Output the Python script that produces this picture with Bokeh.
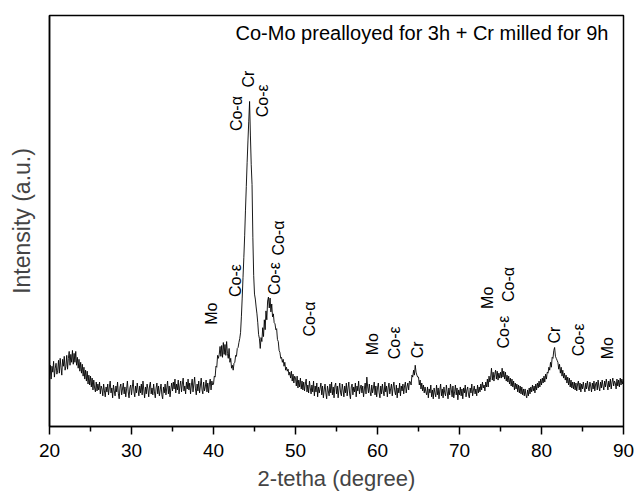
import math
from bokeh.plotting import figure
from bokeh.models import Range1d, Label, FixedTicker, ColumnDataSource
from bokeh.core.properties import value
from bokeh.embed import file_html
from bokeh.resources import INLINE

intensity = [
    58, 69, 55, 68, 62, 73, 57, 66, 71, 60,   # 20
    64, 74, 61, 76, 67, 59, 75, 68, 78, 64,   # 21
    68, 79, 65, 76, 83, 69, 80, 72, 84, 70,   # 22
    81, 72, 83, 69, 77, 66, 75, 63, 72, 61,   # 23
    70, 58, 67, 55, 64, 53, 63, 50, 59, 49,   # 24
    58, 47, 56, 44, 54, 46, 42, 52, 43, 50,   # 25
    44, 52, 40, 48, 45, 38, 50, 43, 37, 47,   # 26
    42, 50, 39, 47, 53, 41, 46, 36, 49, 43,   # 27
    38, 48, 42, 52, 40, 35, 47, 50, 39, 45,   # 28
    51, 40, 47, 37, 45, 53, 42, 36, 46, 49,   # 29
    39, 47, 54, 42, 37, 48, 41, 51, 44, 38,   # 30
    48, 41, 50, 39, 53, 44, 36, 47, 40, 50,   # 31
    45, 37, 48, 52, 40, 46, 39, 50, 42, 36,   # 32
    46, 51, 40, 48, 38, 44, 50, 39, 35, 47,   # 33
    41, 50, 39, 46, 53, 40, 48, 37, 45, 51,   # 34
    43, 52, 45, 55, 41, 50, 44, 54, 40, 48,   # 35
    53, 42, 50, 56, 43, 48, 40, 52, 45, 55,   # 36
    44, 51, 40, 49, 55, 42, 50, 57, 45, 39,   # 37
    50, 43, 53, 41, 48, 56, 44, 40, 52, 43,   # 38
    47, 54, 42, 51, 41, 50, 55, 44, 53, 49,   # 39
    50, 58, 57, 68, 67, 79, 76, 80, 88, 78,   # 40
    89, 77, 92, 80, 90, 79, 93, 81, 76, 86,   # 41
    72, 76, 66, 69, 64, 71, 72, 79, 78, 86,   # 42
    87, 92, 96, 102, 118, 137, 158, 178, 200, 226,     # 43
    250, 274, 296, 316, 336, 302, 272, 252, 198, 160,  # 44
    141, 136, 128, 121, 112, 100, 96, 86, 97, 93,      # 45
    107, 98, 115, 105, 124, 115, 134, 138, 127, 137,   # 46
    123, 131, 118, 121, 112, 111, 105, 106, 95, 93,    # 47
    84, 82, 76, 77, 72, 75, 68, 72, 64, 67,   # 48
    63, 65, 59, 62, 56, 63, 53, 60, 51, 58,   # 49
    56, 48, 58, 46, 54, 47, 56, 45, 53, 44,   # 50
    52, 43, 50, 55, 42, 49, 41, 53, 46, 40,   # 51
    49, 42, 53, 38, 48, 42, 51, 37, 47, 41,   # 52
    46, 51, 39, 48, 36, 44, 50, 41, 35, 48,   # 53
    43, 38, 50, 41, 52, 39, 47, 36, 48, 51,   # 54
    40, 48, 36, 45, 51, 41, 38, 50, 44, 37,   # 55
    48, 41, 51, 38, 46, 52, 40, 35, 47, 50,   # 56
    39, 47, 42, 51, 37, 48, 43, 53, 40, 46,   # 57
    49, 41, 48, 37, 45, 51, 40, 57, 47, 41,   # 58
    50, 42, 38, 49, 41, 46, 52, 39, 48, 37,   # 59
    46, 51, 41, 36, 48, 40, 50, 43, 38, 52,   # 60
    42, 48, 37, 46, 51, 40, 45, 50, 38, 47,   # 61
    52, 43, 39, 49, 36, 46, 41, 51, 38, 48,   # 62
    43, 50, 40, 48, 52, 41, 47, 51, 44, 53,   # 63
    52, 49, 59, 57, 64, 59, 69, 62, 59, 57,   # 64
    57, 49, 54, 45, 51, 43, 49, 41, 47, 42,   # 65
    39, 47, 36, 45, 41, 49, 37, 44, 35, 46,   # 66
    41, 37, 49, 39, 46, 35, 44, 50, 38, 45,   # 67
    36, 47, 41, 38, 49, 42, 35, 46, 39, 50,   # 68
    44, 37, 48, 36, 42, 49, 39, 46, 34, 44,   # 69
    39, 47, 38, 45, 35, 46, 41, 49, 37, 44,   # 70
    47, 39, 36, 46, 41, 50, 38, 44, 48, 40,   # 71
    45, 38, 49, 41, 47, 42, 50, 44, 52, 46,   # 72
    49, 43, 52, 47, 55, 47, 58, 52, 57, 66,   # 73
    54, 62, 53, 60, 64, 55, 63, 54, 61, 56,   # 74
    62, 56, 66, 57, 63, 55, 62, 53, 59, 52,   # 75
    58, 50, 56, 48, 55, 47, 53, 44, 51, 45,   # 76
    50, 42, 49, 41, 48, 40, 47, 39, 45, 38,   # 77
    45, 39, 36, 44, 38, 46, 40, 47, 42, 49,   # 78
    43, 48, 41, 50, 44, 51, 46, 53, 47, 55,   # 79
    49, 56, 51, 58, 52, 60, 55, 62, 61, 67,   # 80
    64, 72, 67, 77, 76, 84, 87, 78, 76, 74,   # 81
    72, 65, 70, 61, 67, 58, 64, 56, 61, 54,   # 82
    59, 51, 57, 49, 56, 47, 54, 46, 52, 45,   # 83
    52, 44, 51, 43, 50, 53, 44, 51, 42, 50,   # 84
    45, 52, 46, 42, 51, 45, 53, 47, 43, 52,   # 85
    48, 42, 51, 45, 53, 43, 50, 52, 44, 54,   # 86
    47, 43, 52, 46, 54, 48, 44, 53, 47, 55,   # 87
    50, 44, 53, 47, 55, 45, 52, 56, 48, 53,   # 88
    51, 45, 55, 48, 54, 47, 56, 49, 55, 50,   # 89
    54,                                       # 90
]
two_theta = [round(20 + 0.1 * i, 1) for i in range(len(intensity))]

# Phase labels (text, 2-theta position, intensity at which the label starts)
peak_labels = ["Mo", "Co-ε", "Co-α", "Cr", "Co-ε", "Co-ε", "Co-α", "Co-α",
               "Mo", "Co-ε", "Cr", "Mo", "Co-α", "Co-ε", "Cr", "Co-ε", "Mo"]
peak_x = [39.76, 42.68, 42.80, 44.27, 45.98, 47.44, 47.93, 51.70,
          59.39, 62.07, 64.88, 73.41, 75.98, 75.37, 81.59, 84.51, 88.05]
peak_y = [110, 138, 306, 350, 320, 140, 180, 98,
          79, 75, 76, 126, 133, 86, 91, 78, 75]

x_ticks = [20, 30, 40, 50, 60, 70, 80, 90]
x_minor = [25, 35, 45, 55, 65, 75, 85]
title_text = "Co-Mo prealloyed for 3h + Cr milled for 9h"
FONT = "Liberation Sans"

p = figure(width=634, height=493, output_backend="svg", toolbar_location=None,
           x_range=Range1d(20, 90), y_range=Range1d(7, 423),
           min_border_left=49, min_border_right=11, min_border_top=15,
           min_border_bottom=62)
p.background_fill_color = "white"
p.border_fill_color = "white"
p.outline_line_color = "black"
p.outline_line_width = 1.5
p.xgrid.visible = False
p.ygrid.visible = False

p.line(two_theta, intensity, line_color="black", line_width=0.9)

src = ColumnDataSource(dict(x=peak_x, y=peak_y, t=peak_labels))
p.text(x="x", y="y", text="t", source=src, angle=math.pi / 2,
       text_align="left", text_baseline="middle",
       text_font=value(FONT), text_font_size="16px", text_color="black")

p.add_layout(Label(x=88.17, y=405, text=title_text, text_align="right",
                   text_baseline="middle", text_font=FONT,
                   text_font_size="20px", text_color="black"))

xa = p.xaxis[0]
xa.ticker = FixedTicker(ticks=x_ticks, minor_ticks=x_minor)
xa.major_tick_out = 8
xa.major_tick_in = 0
xa.minor_tick_out = 5
xa.minor_tick_in = 0
xa.axis_line_width = 1.5
xa.major_tick_line_width = 1.5
xa.minor_tick_line_width = 1.5
xa.major_label_text_font = FONT
xa.major_label_text_font_size = "19px"
xa.major_label_text_color = "black"
xa.major_label_standoff = 9
xa.axis_label = "2-tetha (degree)"
xa.axis_label_text_font = FONT
xa.axis_label_text_font_size = "22px"
xa.axis_label_text_font_style = "normal"
xa.axis_label_standoff = 6

ya = p.yaxis[0]
ya.ticker = FixedTicker(ticks=[])
ya.major_tick_line_color = None
ya.minor_tick_line_color = None
ya.axis_line_width = 1.5
ya.axis_label = "Intensity (a.u.)"
ya.axis_label_text_font = FONT
ya.axis_label_text_font_size = "23px"
ya.axis_label_text_font_style = "normal"
ya.axis_label_standoff = 15

open("out.html", "w").write(file_html(p, INLINE))
